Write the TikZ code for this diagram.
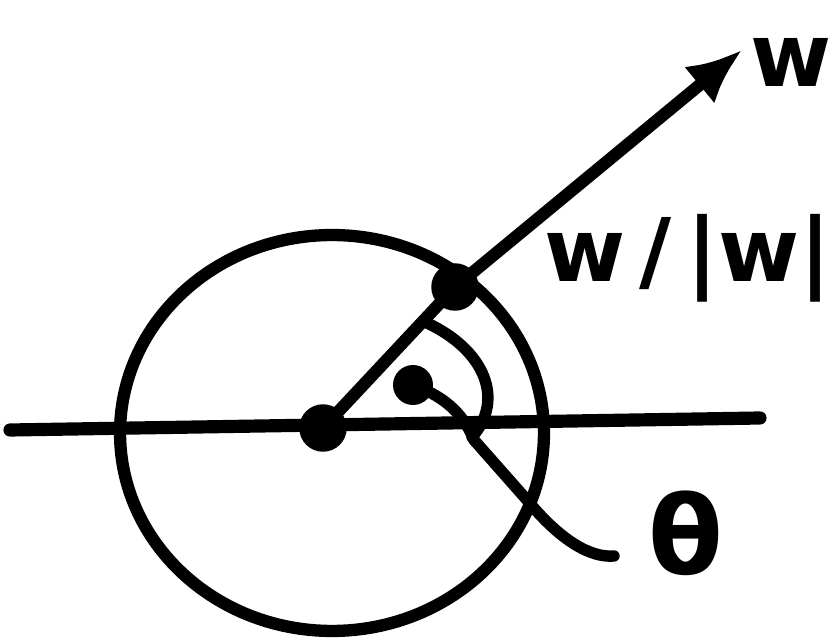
\documentclass[tikz,border=0pt]{standalone}
\usepackage{fontspec}
\setsansfont{DejaVu Sans}
\usepackage{xcolor}
\usepackage{tikz}
\usetikzlibrary{positioning,calc,arrows.meta}
\tikzset{
  axisln/.style     = {draw=black, line width=7.5pt, line cap=round},
  ring/.style       = {draw=black, line width=7pt},
  vec/.style        = {draw=black, line width=7pt, line join=round, -{Latex[length=1.1cm,width=0.95cm]}},
  dotpt/.style      = {circle, fill=black, inner sep=0pt, minimum size=0.95cm},
  smalldot/.style   = {circle, fill=black, inner sep=0pt, minimum size=0.8cm},
  anglearc/.style   = {draw=black, line width=6.5pt, line cap=round},
  leader/.style     = {draw=black, line width=6.5pt, line cap=round},
  lbl/.style        = {font=\sffamily\bfseries\fontsize{50}{50}\selectfont, inner sep=0pt},
  thlbl/.style      = {font=\sffamily\bfseries\fontsize{62}{62}\selectfont, inner sep=0pt},
}

\begin{document}
\begin{tikzpicture}[x=0.02cm,y=-0.02cm]
  \useasboundingbox (0,0) rectangle (839,641);

  % axis and unit circle
  \coordinate (axL) at (10,430);
  \coordinate (axR) at (760,418);
  \draw[axisln] (axL) -- (axR);
  \draw[ring] (332,433) ellipse [x radius=4.24cm, y radius=3.96cm];

  % points
  \node[dotpt] (O) at (323,428) {};
  \node[dotpt] (U) at (455,287) {};
  \coordinate (tip) at (742,50);
  \draw[vec] (O.center) -- (U.center) -- (tip);

  % labels
  \node[lbl, anchor=west] (wlab) at (750,62) {w};
  \node[lbl, anchor=center] (wunit) at (688,258) {w\,/\,|w|};

  % angle
  \coordinate (arcA) at (427,323);
  \coordinate (arcB) at (472,437);
  \draw[anglearc] (arcA) .. controls (485,350) and (505,400) .. (arcB);
  \node[smalldot] (thdot) at (413,385) {};
  \coordinate (thend) at (614,556);
  \draw[leader] (thdot.center) .. controls (440,395) and (462,410) .. (474,440)
    -- (527,500) .. controls (560,540) and (590,558) .. (thend);
  \node[thlbl, anchor=center] (thlab) at (686,533) {θ};
\end{tikzpicture}
\end{document}
